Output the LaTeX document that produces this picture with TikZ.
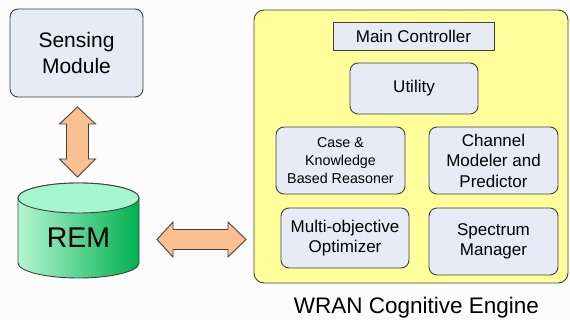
\documentclass[tikz,border=0pt]{standalone}
\usepackage{fontspec}
\setmainfont{Liberation Sans}
\begin{document}
\begin{tikzpicture}[x=1pt,y=1pt,
  bord/.style={draw=black!75, line width=0.9pt},
  blbox/.style={bord, fill=boxblue, rounded corners=8pt, align=center, inner sep=0pt},
  fatarrow/.style={draw=black!75, line width=0.9pt, fill=arrowor, line join=miter},
  lbl/.style={font=\fontsize{17}{20.5}\selectfont, align=center}]
\definecolor{boxblue}{HTML}{E6EBF5}
\definecolor{yell}{HTML}{FFFF9C}
\definecolor{arrowor}{HTML}{FAC090}
\definecolor{cyltop}{HTML}{A6F7CF}
\definecolor{cylleft}{HTML}{B4F5D2}
\definecolor{cylright}{HTML}{00B050}
\definecolor{bg}{HTML}{FCFCFC}
\fill[bg] (0,0) rectangle (570,-320);
\useasboundingbox (0,0) rectangle (570,-320);
% Sensing module
\node[blbox, minimum width=133pt, minimum height=88pt, font=\fontsize{21}{26}\selectfont]
  (sens) at (76.5,-53) {Sensing\\Module};
% REM cylinder
\path[shade, left color=cylleft, right color=cylright, draw=black!75, line width=0.9pt]
  (18,-198) -- (18,-263) arc(180:360:60.5 and 15) -- (139,-198) arc(0:180:60.5 and 15) -- cycle;
\draw[fill=cyltop, draw=black!75, line width=0.9pt] (78.5,-198) ellipse (60.5 and 15);
\node[font=\fontsize{28.5}{30}\selectfont] (rem) at (78.5,-238) {REM};
% vertical arrow
\coordinate (vt) at (77.5,-107);
\draw[fatarrow] (vt) -- ++(18,-17) -- ++(-7,0) -- ++(0,-35) -- ++(7,0) -- ++(-18,-18)
  -- ++(-18,18) -- ++(7,0) -- ++(0,35) -- ++(-7,0) -- cycle;
% horizontal arrow
\coordinate (hl) at (157,-239.5);
\draw[fatarrow] (hl) -- ++(16,17.5) -- ++(0,-7.5) -- ++(55,0) -- ++(0,7.5) -- ++(18,-17.5)
  -- ++(-18,-17.5) -- ++(0,7.5) -- ++(-55,0) -- ++(0,-7.5) -- cycle;
% engine
\draw[bord, fill=yell, rounded corners=10pt] (254,-10) rectangle (568,-283);
\node[bord, fill=boxblue, minimum width=161pt, minimum height=28pt, inner sep=0pt,
  font=\fontsize{17}{20}\selectfont] (main) at (413.5,-36) {Main Controller};
\node[blbox, lbl, minimum width=128pt, minimum height=51pt] (util) at (414,-88.5) {Utility};
\node[blbox, minimum width=129pt, minimum height=67pt, align=center,
  font=\fontsize{14.3}{17.7}\selectfont] (case) at (340.5,-160.5) {Case \&\\Knowledge\\Based Reasoner};
\node[blbox, lbl, minimum width=129pt, minimum height=67pt] (chan) at (493.5,-160.5) {Channel\\Modeler and\\Predictor};
\node[blbox, lbl, minimum width=128pt, minimum height=60pt] (multi) at (345,-238) {Multi-objective\\Optimizer};
\node[blbox, lbl, minimum width=129pt, minimum height=67pt] (spec) at (493.5,-241.5) {Spectrum\\Manager};
\node[font=\fontsize{22.5}{24}\selectfont] (cap) at (416.5,-308) {WRAN Cognitive Engine};
\end{tikzpicture}
\end{document}
